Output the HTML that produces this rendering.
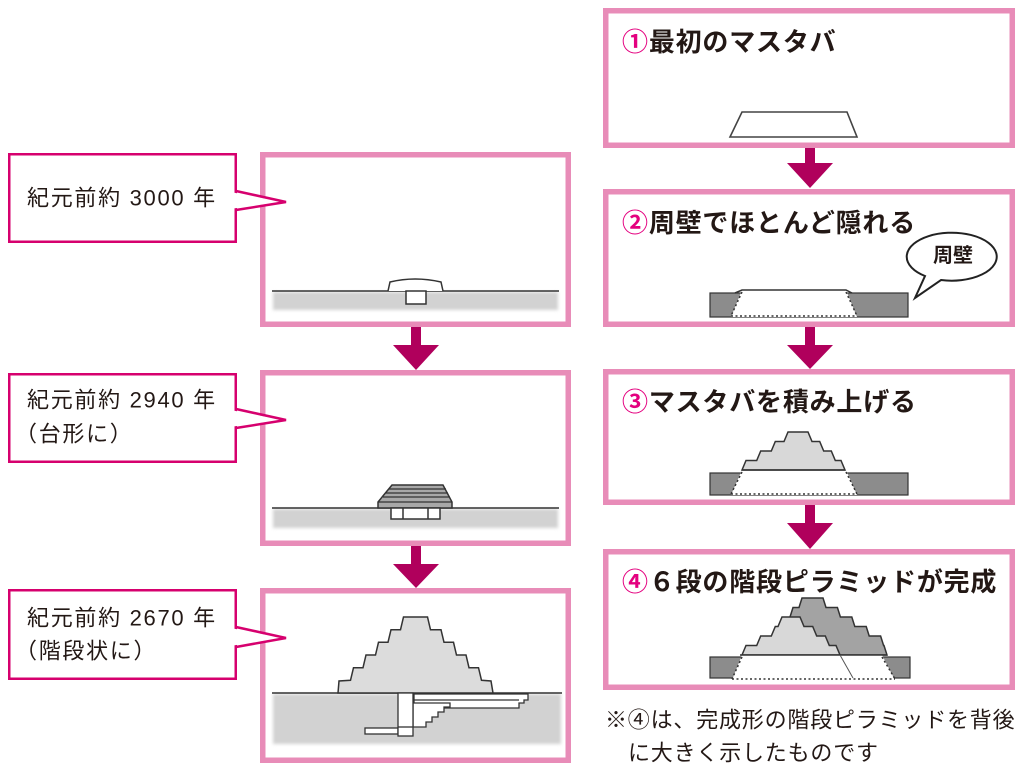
<!DOCTYPE html>
<html><head><meta charset="utf-8">
<style>
html,body{margin:0;padding:0;background:#fff;}
svg{display:block;}
text{font-family:"Liberation Sans","Noto Sans CJK JP",sans-serif;fill:#231815;}
.t{font-size:26px;font-weight:700;letter-spacing:0.8px;}
.c{fill:#e4007f;}
.l{font-size:22px;letter-spacing:1.7px;}
.n{font-size:22px;letter-spacing:0.8px;}
</style></head>
<body>
<svg width="1024" height="776" viewBox="0 0 1024 776" xmlns="http://www.w3.org/2000/svg">
<defs>
<filter id="bl" x="-5%" y="-30%" width="110%" height="160%"><feGaussianBlur stdDeviation="1.6"/></filter>
</defs>

<!-- ===== LEFT PANELS ===== -->
<g fill="#fff" stroke="#e88cb8" stroke-width="5.5">
<rect x="262.75" y="154.75" width="305.5" height="169.5"/>
<rect x="262.75" y="372.75" width="305.5" height="170.5"/>
<rect x="262.75" y="590.75" width="305.5" height="169.5"/>
</g>

<!-- ===== LEFT LABELS ===== -->
<g fill="#fff" stroke="#d6006e" stroke-width="2.5">
<rect x="9.25" y="154.25" width="226.5" height="87.5"/>
<rect x="9.25" y="374.25" width="226.5" height="87.5"/>
<rect x="9.25" y="590.25" width="226.5" height="88.5"/>
</g>
<g fill="#fff">
<polygon points="233,192.5 283,202 233,208.5"/>
<polygon points="233,410.5 283,420 233,426.5"/>
<polygon points="233,628.5 283,638 233,645.5"/>
</g>
<g fill="none" stroke="#d6006e" stroke-width="2.5" stroke-linejoin="miter">
<polyline points="236,191 286,202 236,210"/>
<polyline points="236,409 286,420 236,428"/>
<polyline points="236,627 286,638 236,647"/>
</g>
<text class="l" x="27" y="198" dominant-baseline="central">紀元前約 3000 年</text>
<text class="l" x="27" y="400" dominant-baseline="central">紀元前約 2940 年</text>
<text class="l" x="15" y="434" dominant-baseline="central">（台形に）</text>
<text class="l" x="27" y="618" dominant-baseline="central">紀元前約 2670 年</text>
<text class="l" x="15" y="651" dominant-baseline="central">（階段状に）</text>

<!-- panel 1 -->
<rect x="273" y="292" width="285" height="18" fill="#d2d2d2" filter="url(#bl)"/>
<line x1="272" y1="291" x2="559" y2="291" stroke="#333" stroke-width="1.5"/>
<path d="M388,291 L390,282 Q415,276 441,282 L443,291" fill="#fff" stroke="#333" stroke-width="1.5"/>
<rect x="406" y="291" width="20" height="13" fill="#fff" stroke="#333" stroke-width="1.5"/>

<!-- panel 2 -->
<rect x="273" y="509" width="285" height="19" fill="#d2d2d2" filter="url(#bl)"/>
<line x1="272" y1="508" x2="559" y2="508" stroke="#333" stroke-width="1.5"/>
<polygon points="392,485 443,485 452,502 452,508 378,508 378,502" fill="#a8a8a8" stroke="#333" stroke-width="1.5"/>
<g stroke="#333" stroke-width="1.2">
<line x1="389" y1="489" x2="446" y2="489"/>
<line x1="386" y1="493" x2="448" y2="493"/>
<line x1="383" y1="497" x2="450" y2="497"/>
<line x1="378" y1="502" x2="452" y2="502"/>
</g>
<rect x="391" y="508" width="49" height="11" fill="#fff" stroke="#333" stroke-width="1.5"/>
<line x1="403" y1="508" x2="403" y2="519" stroke="#333" stroke-width="1.5"/>
<line x1="428" y1="508" x2="428" y2="519" stroke="#333" stroke-width="1.5"/>

<!-- panel 3 -->
<rect x="273" y="694" width="288" height="50" fill="#d2d2d2" filter="url(#bl)"/>
<line x1="272" y1="693" x2="562" y2="693" stroke="#333" stroke-width="1.5"/>
<polygon fill="#dcdcdc" stroke="#333" stroke-width="1.5" points="338,693 339,681 350.5,680.3 353.5,667.7 363,667.7 366,655 375.5,655 378.5,642.3 388,642.3 391,629.7 400.5,629.7 403.5,617 427.5,617 430.5,629.7 441,629.7 444,642.3 453.5,642.3 456.5,655 466,655 469,667.7 478.5,667.7 481.5,680.3 491,681 493,693"/>
<g fill="#fff" stroke="#333" stroke-width="1.3">
<polygon points="414,694 528,694 528,700 524,700 524,703 519,703 519,708 414,708"/>
<polygon points="413,703 450,703 450,707 444,707 444,712 438,712 438,717 432,717 432,722 426,722 426,727 413,727"/>
<rect x="365" y="728" width="33" height="6"/>
<rect x="398" y="693" width="15" height="43"/>
<line x1="398" y1="727" x2="413" y2="727"/>
<line x1="414" y1="700" x2="519" y2="700"/>
</g>

<!-- left arrows -->
<g fill="#b0005c">
<rect x="411" y="327" width="10" height="19"/>
<polygon points="393,345 439,345 416,370"/>
<rect x="411" y="546" width="10" height="19"/>
<polygon points="393,564 439,564 416,588"/>
</g>

<!-- ===== RIGHT BOXES ===== -->
<g fill="#fff" stroke="#e88cb8" stroke-width="5.5">
<rect x="605.75" y="10.75" width="406.5" height="134.5"/>
<rect x="605.75" y="191.75" width="406.5" height="132.5"/>
<rect x="605.75" y="371.75" width="406.5" height="130.5"/>
<rect x="605.75" y="551.75" width="406.5" height="135.5"/>
</g>

<!-- right arrows -->
<g fill="#b0005c">
<rect x="805" y="148" width="10" height="16"/>
<polygon points="787,163 833,163 810,188"/>
<rect x="805" y="327" width="10" height="19"/>
<polygon points="787,345 833,345 810,369"/>
<rect x="805" y="505" width="10" height="19"/>
<polygon points="787,523 833,523 810,549"/>
</g>

<!-- titles -->
<text class="t" x="622" y="42" dominant-baseline="central"><tspan class="c">①</tspan>最初のマスタバ</text>
<text class="t" x="622" y="223" dominant-baseline="central"><tspan class="c">②</tspan>周壁でほとんど隠れる</text>
<text class="t" x="622" y="402" dominant-baseline="central"><tspan class="c">③</tspan>マスタバを積み上げる</text>
<text class="t" x="622" y="582" dominant-baseline="central"><tspan class="c">④</tspan>６段の階段ピラミッドが完成</text>

<!-- box1 drawing -->
<polygon points="742,112 847,112 857,137 730,137" fill="#fff" stroke="#444" stroke-width="1.6"/>

<!-- box2 drawing -->
<rect x="710" y="293" width="198" height="24" fill="#8c8c8c" stroke="#333" stroke-width="1.2"/>
<polygon points="742,290 846,290 857,317 731,317" fill="#fff"/>
<polyline points="735,293 742,290 846,290 852,293" fill="none" stroke="#333" stroke-width="1.5"/>
<g fill="none" stroke="#333" stroke-width="1.5" stroke-dasharray="2,2.5">
<line x1="742" y1="292" x2="731" y2="316"/>
<line x1="846" y1="292" x2="857" y2="316"/>
<line x1="731" y1="316" x2="857" y2="316"/>
</g>
<path d="M925,276 A45 24 0 1 1 941,280 L915,298 Z" fill="#fff" stroke="#222" stroke-width="2" stroke-linejoin="miter"/>
<text x="953" y="256" font-size="20" font-weight="700" text-anchor="middle" dominant-baseline="central">周壁</text>

<!-- box3 drawing -->
<rect x="710" y="473" width="198" height="22" fill="#8c8c8c" stroke="#333" stroke-width="1.2"/>
<polygon points="742,470 846,470 857,495 731,495" fill="#fff"/>
<polygon fill="#d8d8d8" stroke="#333" stroke-width="1.5" points="742,470 746,460.5 756.7,460.5 760.7,451 771.3,451 775.3,441.5 784,441.5 788,432 808,432 812,441.5 819.7,441.5 823.7,451 831.3,451 835.3,460.5 841,460.5 845,470"/>
<line x1="742" y1="470" x2="845" y2="470" stroke="#333" stroke-width="1.5"/>
<g fill="none" stroke="#333" stroke-width="1.5" stroke-dasharray="2,2.5">
<line x1="742" y1="472" x2="731" y2="494"/>
<line x1="846" y1="472" x2="857" y2="494"/>
<line x1="731" y1="494" x2="857" y2="494"/>
</g>

<!-- box4 drawing -->
<polygon fill="#a3a3a3" stroke="#333" stroke-width="1.5" points="790,655 790,617 793,607.5 799,607.5 802,598 823,598 826,607.5 837.4,607.5 840.4,617 851.8,617 854.8,626.5 866.2,626.5 869.2,636 880.6,636 883.6,645.5 884,645.5 887,655"/>
<polygon fill="#d8d8d8" stroke="#333" stroke-width="1.5" points="742,655 746,645.5 756.7,645.5 760.7,636 771.3,636 775.3,626.5 778,626.5 782,617 800,617 804,626.5 812.7,626.5 816.7,636 825.3,636 829.3,645.5 836,645.5 840,655"/>
<rect x="710" y="657" width="200" height="21" fill="#8c8c8c" stroke="#333" stroke-width="1.2"/>
<polygon points="742,655 882,655 895,680 732,680" fill="#fff"/>
<line x1="740" y1="655" x2="887" y2="655" stroke="#333" stroke-width="1.5"/>
<line x1="840" y1="655" x2="853" y2="678" stroke="#555" stroke-width="1"/>
<g fill="none" stroke="#333" stroke-width="1.5" stroke-dasharray="2,2.5">
<line x1="742" y1="657" x2="732" y2="679"/>
<line x1="882" y1="657" x2="895" y2="679"/>
<line x1="732" y1="679" x2="895" y2="679"/>
</g>

<!-- note -->
<text class="n" x="605" y="720" dominant-baseline="central">※④は、完成形の階段ピラミッドを背後</text>
<text class="n" x="628" y="753" dominant-baseline="central">に大きく示したものです</text>
</svg>
</body></html>
